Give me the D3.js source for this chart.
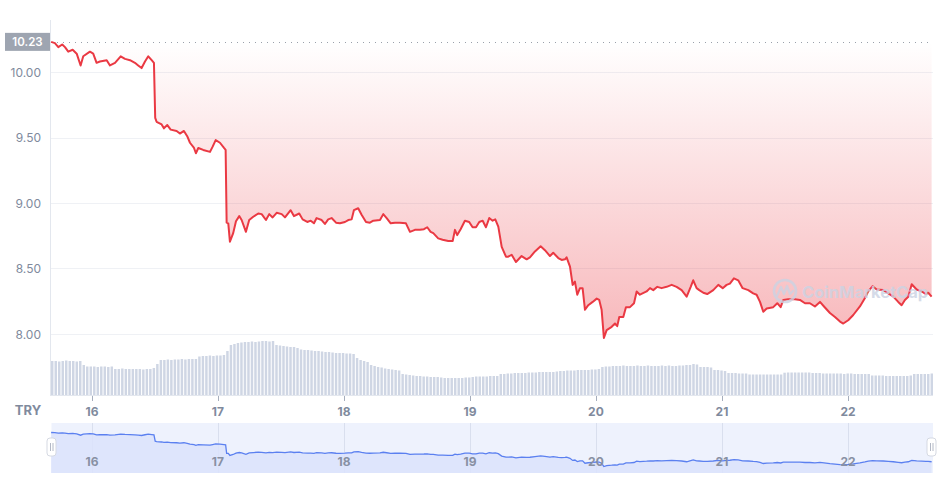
<!DOCTYPE html>
<html>
<head>
<meta charset="utf-8">
<script src="https://cdn.jsdelivr.net/npm/d3@7/dist/d3.min.js"></script>
<style>
  html, body { margin: 0; padding: 0; background: #ffffff; }
  svg { display: block; font-family: Inter, "Noto Sans", Roboto, sans-serif; }
</style>
</head>
<body>
<script>
// ---------------- DATA ----------------
const openPrice = 10.23;
const currency = "TRY";
const yTicks = [8.00, 8.50, 9.00, 9.50, 10.00];
const dayTicks = [16, 17, 18, 19, 20, 21, 22];

// time in day-of-month (fractional), price in TRY
const times = [
  15.676, 15.706, 15.733, 15.764, 15.786, 15.812, 15.847, 15.879, 15.910, 15.931,
  15.984, 16.010, 16.037, 16.063, 16.117, 16.143, 16.183, 16.228, 16.262, 16.302,
  16.341, 16.367, 16.394, 16.421, 16.447, 16.474, 16.492, 16.502, 16.513, 16.553,
  16.571, 16.598, 16.625, 16.672, 16.698, 16.730, 16.756, 16.778, 16.810, 16.825,
  16.844, 16.883, 16.937, 16.958, 16.982, 17.016, 17.048, 17.061, 17.069, 17.082,
  17.095, 17.121, 17.143, 17.169, 17.188, 17.222, 17.248, 17.280, 17.320, 17.347,
  17.381, 17.407, 17.434, 17.466, 17.506, 17.532, 17.577, 17.603, 17.645, 17.672,
  17.709, 17.736, 17.762, 17.783, 17.823, 17.849, 17.875, 17.902, 17.937, 17.968,
  18.008, 18.034, 18.061, 18.079, 18.113, 18.140, 18.175, 18.206, 18.233, 18.286,
  18.312, 18.339, 18.371, 18.405, 18.444, 18.492, 18.524, 18.563, 18.603, 18.635,
  18.661, 18.688, 18.709, 18.748, 18.783, 18.828, 18.863, 18.881, 18.899, 18.926,
  18.960, 18.994, 19.021, 19.048, 19.074, 19.101, 19.127, 19.153, 19.180, 19.201,
  19.225, 19.252, 19.286, 19.304, 19.331, 19.365, 19.410, 19.450, 19.476, 19.516,
  19.561, 19.595, 19.635, 19.661, 19.701, 19.728, 19.754, 19.767, 19.794, 19.815,
  19.833, 19.852, 19.873, 19.894, 19.913, 19.939, 19.974, 20.006, 20.026, 20.045,
  20.063, 20.085, 20.125, 20.151, 20.169, 20.185, 20.217, 20.238, 20.270, 20.302,
  20.323, 20.349, 20.402, 20.429, 20.455, 20.487, 20.521, 20.561, 20.601, 20.640,
  20.680, 20.720, 20.752, 20.772, 20.799, 20.820, 20.852, 20.883, 20.931, 20.971,
  21.006, 21.037, 21.063, 21.095, 21.129, 21.164, 21.209, 21.248, 21.275, 21.302,
  21.328, 21.355, 21.407, 21.439, 21.466, 21.487, 21.526, 21.579, 21.619, 21.659,
  21.698, 21.738, 21.778, 21.810, 21.857, 21.897, 21.937, 21.963, 22.002, 22.042,
  22.095, 22.135, 22.161, 22.196, 22.228, 22.280, 22.320, 22.360, 22.399, 22.426,
  22.452, 22.479, 22.506, 22.545, 22.585, 22.619, 22.637, 22.664
];
const prices = [
  10.23, 10.22, 10.19, 10.21, 10.19, 10.155, 10.17, 10.14, 10.05, 10.12,
  10.155, 10.14, 10.07, 10.08, 10.09, 10.05, 10.07, 10.12, 10.10, 10.09,
  10.07, 10.05, 10.03, 10.08, 10.12, 10.09, 10.07, 9.65, 9.62, 9.60,
  9.57, 9.595, 9.56, 9.55, 9.53, 9.55, 9.51, 9.46, 9.42, 9.38,
  9.42, 9.405, 9.39, 9.43, 9.48, 9.46, 9.42, 9.405, 8.85, 8.845,
  8.705, 8.77, 8.86, 8.90, 8.87, 8.78, 8.87, 8.895, 8.92, 8.915,
  8.87, 8.915, 8.89, 8.925, 8.915, 8.89, 8.945, 8.90, 8.92, 8.875,
  8.855, 8.865, 8.845, 8.885, 8.87, 8.84, 8.875, 8.885, 8.85, 8.845,
  8.855, 8.87, 8.875, 8.945, 8.96, 8.91, 8.855, 8.85, 8.865, 8.87,
  8.915, 8.885, 8.845, 8.85, 8.85, 8.845, 8.78, 8.795, 8.795, 8.80,
  8.815, 8.78, 8.77, 8.73, 8.72, 8.71, 8.71, 8.795, 8.755, 8.80,
  8.865, 8.855, 8.815, 8.815, 8.855, 8.865, 8.815, 8.885, 8.865, 8.875,
  8.82, 8.665, 8.59, 8.59, 8.605, 8.55, 8.595, 8.57, 8.585, 8.63,
  8.67, 8.64, 8.595, 8.62, 8.58, 8.565, 8.57, 8.585, 8.515, 8.375,
  8.40, 8.30, 8.35, 8.35, 8.185, 8.22, 8.245, 8.27, 8.26, 8.185,
  7.97, 8.03, 8.055, 8.08, 8.06, 8.13, 8.13, 8.205, 8.205, 8.235,
  8.325, 8.30, 8.325, 8.35, 8.335, 8.36, 8.35, 8.36, 8.375, 8.36,
  8.335, 8.285, 8.36, 8.41, 8.35, 8.335, 8.315, 8.305, 8.335, 8.375,
  8.35, 8.375, 8.385, 8.425, 8.41, 8.35, 8.335, 8.31, 8.30, 8.245,
  8.17, 8.195, 8.205, 8.235, 8.205, 8.26, 8.265, 8.265, 8.26, 8.235,
  8.235, 8.21, 8.245, 8.21, 8.16, 8.13, 8.095, 8.08, 8.105, 8.145,
  8.21, 8.275, 8.325, 8.365, 8.34, 8.335, 8.31, 8.285, 8.245, 8.22,
  8.26, 8.285, 8.38, 8.34, 8.325, 8.305, 8.315, 8.285
];

// volume bars (relative units), evenly spaced through the 7-day window
const volumes = [
  34,34,33.5,34,34.5,34,34,33.5,34,30,28.5,28.5,
  28.5,28,28.5,28.5,28,28.5,26,26,26.5,26,26,26,
  26,26,25.5,26,26,27,31,35,35,35.5,35,35.5,
  35.5,36,35.5,36,36,36,38.5,39,39,39.5,39,39.5,
  39.5,40,44,50,51,52,52.5,53,53,53.5,53,53.5,
  54,54,53.5,54,50,49.5,49,48.5,48,48,47,45.5,
  45,45,44.5,44,44,43.5,43,43,42.5,42,42,42,
  41.5,41.5,41,37,35,34,33,30,29,28,27.5,26.5,
  26,25.5,25,24.5,21,20.5,20,19.5,19,19,18.5,18.5,
  18,18,18,17.5,17,17,17,17,17,17,17.5,17.5,
  18,18.5,18.5,18.5,18.5,19,19,19,21,21,21.5,21.5,
  22,22,22,22,22.5,22.5,22.5,23,23,23,23,23,
  23.5,24,24,24.5,24.5,24.5,25,25,25,25,25.5,25.5,
  26,28,28.5,28.5,29,29,29,29.5,29,29,29,29.5,
  29,29,29.5,29,29,29,29.5,29,29.5,29,29,29.5,
  29.5,30,30,31,30.5,28,28,28,27.5,25,25,24.5,
  24,22,22,22,21.5,21.5,21.5,20.5,20.5,20.5,20.5,20.5,
  20.5,20.5,20.5,20.5,20.5,22.3,22.5,22.5,22.5,22.5,22.5,22.5,
  22.5,22,22,22,21.5,21.5,21.5,21.5,21.5,21.5,21,21.5,
  21.5,21,21,21,21,21,19.5,19.5,19.5,19.5,19,19,
  19,19,19,19,19,19.5,21,21,21,21,21,21.5
];

// ---------------- CHART ----------------
const W = 940, H = 480;
const svg = d3.select("body").append("svg").attr("width", W).attr("height", H);

const series = times.map((t, i) => ({ t, p: prices[i] }));

const x = d3.scaleLinear().domain([15.675, 22.675]).range([51, 933]);
const y = d3.scaleLinear().domain([7.75, 10.25]).range([366.75, 39.25]);

const volX = d3.scaleBand().domain(d3.range(volumes.length)).range([51, 933]).paddingInner(0.3);
const volY = d3.scaleLinear().domain([0, 60]).range([395, 335]);

const defs = svg.append("defs");
const grad = defs.append("linearGradient")
  .attr("id", "redFill").attr("gradientUnits", "userSpaceOnUse")
  .attr("x1", 0).attr("x2", 0)
  .attr("y1", y(openPrice)).attr("y2", y(d3.min(prices)));
grad.append("stop").attr("offset", 0).attr("stop-color", "#ea3943").attr("stop-opacity", 0.0);
grad.append("stop").attr("offset", 1).attr("stop-color", "#ea3943").attr("stop-opacity", 0.36);

// horizontal grid
svg.append("g").selectAll("line").data(yTicks).join("line")
  .attr("x1", 51).attr("x2", 933)
  .attr("y1", d => Math.round(y(d)) + 0.5).attr("y2", d => Math.round(y(d)) + 0.5)
  .attr("stroke", "#eff1f5").attr("stroke-width", 1);

// y labels
svg.append("g").selectAll("text").data(yTicks).join("text")
  .attr("x", 41).attr("y", d => y(d) + 4.5)
  .attr("text-anchor", "end")
  .attr("font-size", 12).attr("fill", "#808a9d")
  .text(d => d.toFixed(2));

// volume bars
svg.append("g").selectAll("rect").data(volumes).join("rect")
  .attr("x", (d, i) => volX(i)).attr("width", volX.bandwidth())
  .attr("y", d => volY(d)).attr("height", d => volY(0) - volY(d))
  .attr("fill", "#cfd6e4");

// baseline under bars
svg.append("line").attr("x1", 51).attr("x2", 933).attr("y1", 395.5).attr("y2", 395.5)
  .attr("stroke", "#e3e7ee");

// left axis line
svg.append("line").attr("x1", 50.5).attr("x2", 50.5).attr("y1", 20).attr("y2", 396)
  .attr("stroke", "#e3e7ee");

// area fill (between price and opening price)
svg.append("path").datum(series)
  .attr("d", d3.area().x(d => x(d.t)).y0(y(openPrice)).y1(d => y(d.p)))
  .attr("fill", "url(#redFill)");

// dotted opening price line
svg.append("line").attr("x1", 51).attr("x2", 933)
  .attr("y1", Math.round(y(openPrice)) + 0.5).attr("y2", Math.round(y(openPrice)) + 0.5)
  .attr("stroke", "#9aa0aa").attr("stroke-width", 1).attr("stroke-dasharray", "1,5");

// price line
svg.append("path").datum(series)
  .attr("d", d3.line().x(d => x(d.t)).y(d => y(d.p)))
  .attr("fill", "none").attr("stroke", "#ea3943").attr("stroke-width", 2)
  .attr("stroke-linejoin", "round");

// watermark (drawn over the line, semi-transparent)
const wm = svg.append("g").attr("opacity", 0.8);
wm.append("circle").attr("cx", 785).attr("cy", 291).attr("r", 11)
  .attr("fill", "none").attr("stroke", "#cbd3e3").attr("stroke-width", 2.6);
wm.append("path")
  .attr("d", "M777,296 L781,287 L784,294 L787,286 L790,294 L793,291")
  .attr("fill", "none").attr("stroke", "#cbd3e3").attr("stroke-width", 2.2)
  .attr("stroke-linejoin", "round").attr("stroke-linecap", "round");
wm.append("text").attr("x", 802).attr("y", 297.5)
  .attr("font-size", 16.5).attr("font-weight", 700).attr("fill", "#cbd3e3")
  .text("CoinMarketCap");

// opening price badge
const badge = svg.append("g");
badge.append("rect").attr("x", 5).attr("y", y(openPrice) - 9).attr("width", 45).attr("height", 18)
  .attr("fill", "#9ea5b1");
badge.append("text").attr("x", 27.5).attr("y", y(openPrice) + 4)
  .attr("text-anchor", "middle").attr("font-size", 11.5).attr("font-weight", 600)
  .attr("fill", "#ffffff").text(openPrice.toFixed(2));

// x axis ticks and labels
svg.append("g").selectAll("line").data(dayTicks).join("line")
  .attr("x1", d => Math.round(x(d)) + 0.5).attr("x2", d => Math.round(x(d)) + 0.5)
  .attr("y1", 396).attr("y2", 401).attr("stroke", "#a6aebd");
svg.append("g").selectAll("text").data(dayTicks).join("text")
  .attr("x", d => x(d)).attr("y", 416)
  .attr("text-anchor", "middle").attr("font-size", 12).attr("font-weight", 700)
  .attr("fill", "#808a9d").text(d => d);

svg.append("text").attr("x", 28).attr("y", 415).attr("text-anchor", "middle")
  .attr("font-size", 13).attr("font-weight", 700).attr("fill", "#808a9d").text(currency);

// ---------------- NAVIGATOR ----------------
const navTop = 423, navBottom = 473;
const ny = d3.scaleLinear().domain([d3.min(prices), d3.max(prices)]).range([466.5, 432.5]);

svg.append("rect").attr("x", 51.5).attr("y", navTop).attr("width", 933 - 51.5).attr("height", navBottom - navTop)
  .attr("fill", "#eef2fd");
svg.append("g").selectAll("line").data(dayTicks).join("line")
  .attr("x1", d => Math.round(x(d)) + 0.5).attr("x2", d => Math.round(x(d)) + 0.5)
  .attr("y1", navTop).attr("y2", navBottom).attr("stroke", "#d9dfee");
svg.append("path").datum(series)
  .attr("d", d3.area().x(d => x(d.t)).y0(navBottom).y1(d => ny(d.p)))
  .attr("fill", "#dbe3fb").attr("fill-opacity", 0.85);
svg.append("path").datum(series)
  .attr("d", d3.line().x(d => x(d.t)).y(d => ny(d.p)))
  .attr("fill", "none").attr("stroke", "#5b80f0").attr("stroke-width", 1.3);
svg.append("g").selectAll("text").data(dayTicks).join("text")
  .attr("x", d => x(d)).attr("y", 465.5)
  .attr("text-anchor", "middle").attr("font-size", 12).attr("font-weight", 700)
  .attr("fill", "#8890a3").text(d => d);

// handles
[51.5, 931.5].forEach(hx => {
  const g = svg.append("g");
  g.append("rect").attr("x", hx - 4.5).attr("y", 438).attr("width", 9).attr("height", 18).attr("rx", 3)
    .attr("fill", "#ffffff").attr("stroke", "#d5d9e2");
  g.append("line").attr("x1", hx - 1).attr("x2", hx - 1).attr("y1", 443).attr("y2", 451).attr("stroke", "#b3b9c6");
  g.append("line").attr("x1", hx + 1.5).attr("x2", hx + 1.5).attr("y1", 443).attr("y2", 451).attr("stroke", "#b3b9c6");
});
</script>
</body>
</html>
